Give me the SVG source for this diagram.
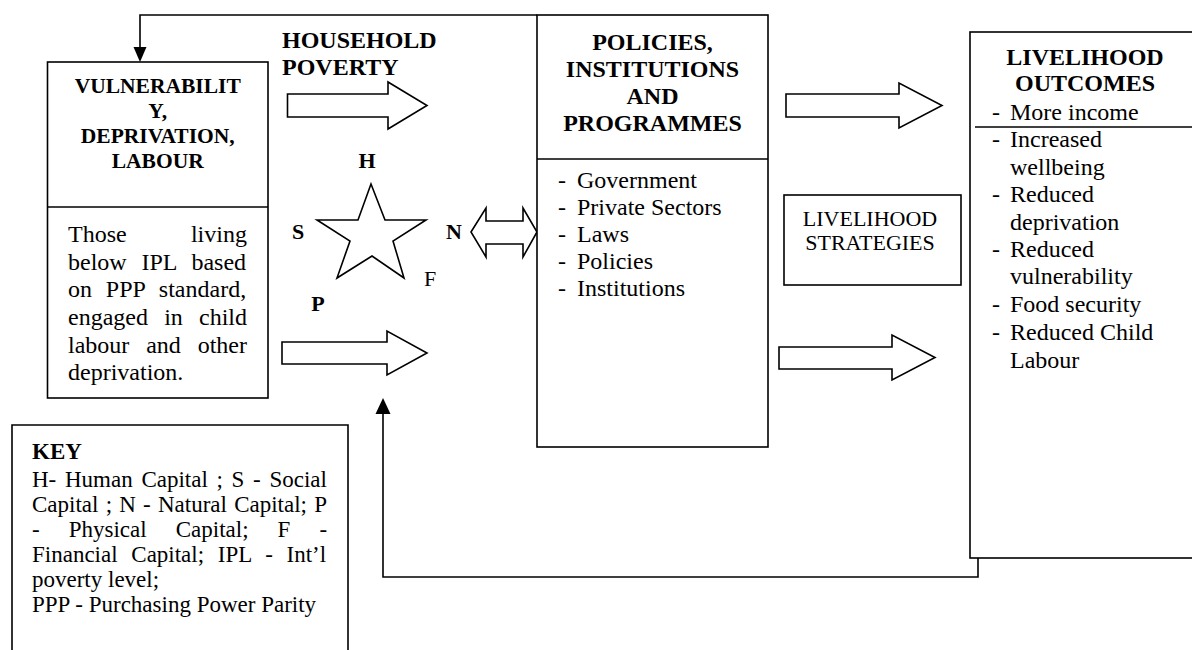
<svg xmlns="http://www.w3.org/2000/svg" width="1192" height="650" viewBox="0 0 1192 650">
<style>
  text { font-family: "Liberation Serif", "Times New Roman", serif; fill: #000; }
  .b { font-weight: bold; }
  .t24 { font-size: 24px; }
  .t23 { font-size: 23px; }
  .t22 { font-size: 22px; }
  .t21 { font-size: 21.5px; }
  .c { text-anchor: middle; }
  .box { fill: #fff; stroke: #000; stroke-width: 1.6; }
  .ln { fill: none; stroke: #000; stroke-width: 1.6; }
  .blk { fill: #fff; stroke: #000; stroke-width: 1.6; stroke-linejoin: miter; }
</style>
<rect width="1192" height="650" fill="#fff"/>

<g id="connectors">
  <path class="ln" d="M537,15 H140 V49"/>
  <polygon points="133.5,47 146.5,47 140,62" fill="#000"/>
  <path class="ln" d="M978,558 V577 H383 V412"/>
  <polygon points="375.5,414 390.5,414 383,398" fill="#000"/>
  <polygon id="arrow-hp" class="blk" points="287.5,94 388,94 388,82 427,105.5 388,129 388,117 287.5,117"/>
  <polygon id="arrow-low" class="blk" points="282,342 387,342 387,331 427,353 387,375 387,364 282,364"/>
  <polygon id="arrow-dbl" class="blk" points="471,232 486,208 486,221 523,221 523,208 537,232 523,257 523,244 486,244 486,257"/>
  <polygon id="arrow-out1" class="blk" points="786,94 899,94 899,83 942,105.5 899,128 899,117 786,117"/>
  <polygon id="arrow-out2" class="blk" points="779,347 892,347 892,335 935,357.5 892,380 892,369 779,369"/>
</g>

<g id="household-poverty">
  <text class="b t24" x="282" y="48">HOUSEHOLD</text>
  <text class="b t24" x="282" y="75">POVERTY</text>
</g>

<g id="vulnerability">
  <rect class="box" x="47.5" y="62" width="220.5" height="336"/>
  <line class="ln" x1="47.5" y1="207" x2="268" y2="207"/>
  <text class="b t21 c" x="157.75" y="93">VULNERABILIT</text>
  <text class="b t21 c" x="157.75" y="118">Y,</text>
  <text class="b t21 c" x="157.75" y="143">DEPRIVATION,</text>
  <text class="b t21 c" x="157.75" y="168">LABOUR</text>
  <text class="t24" x="68" y="242" word-spacing="58.3">Those living</text>
  <text class="t24" x="68" y="270" word-spacing="8.85">below IPL based</text>
  <text class="t24" x="68" y="297" word-spacing="7.85">on PPP standard,</text>
  <text class="t24" x="68" y="325" word-spacing="10.2">engaged in child</text>
  <text class="t24" x="68" y="353" word-spacing="10.85">labour and other</text>
  <text class="t24" x="68" y="380">deprivation.</text>
</g>

<g id="capitals">
  <polygon class="blk" points="371,184 385,220 426,220 393,241 404,278 372,256 337,278 350,241 317,220 358,220"/>
  <text class="b t22 c" x="367" y="168">H</text>
  <text class="b t22 c" x="298" y="239">S</text>
  <text class="b t22 c" x="454" y="239">N</text>
  <text class="t22 c" x="430" y="286">F</text>
  <text class="b t22 c" x="318" y="311">P</text>
</g>

<g id="policies">
  <rect class="box" x="537" y="15" width="231" height="432"/>
  <line class="ln" x1="537" y1="159" x2="768" y2="159"/>
  <text class="b t24 c" x="652.5" y="50">POLICIES,</text>
  <text class="b t24 c" x="652.5" y="77">INSTITUTIONS</text>
  <text class="b t24 c" x="652.5" y="104">AND</text>
  <text class="b t24 c" x="652.5" y="131">PROGRAMMES</text>
  <text class="t24" x="558" y="188">-</text><text class="t24" x="577" y="188">Government</text>
  <text class="t24" x="558" y="215">-</text><text class="t24" x="577" y="215">Private Sectors</text>
  <text class="t24" x="558" y="242">-</text><text class="t24" x="577" y="242">Laws</text>
  <text class="t24" x="558" y="269">-</text><text class="t24" x="577" y="269">Policies</text>
  <text class="t24" x="558" y="296">-</text><text class="t24" x="577" y="296">Institutions</text>
</g>

<g id="strategies">
  <rect class="box" x="784" y="195" width="177" height="90"/>
  <text class="t22 c" x="870" y="226">LIVELIHOOD</text>
  <text class="t22 c" x="870" y="250">STRATEGIES</text>
</g>

<g id="outcomes">
  <rect class="box" x="970" y="32" width="240" height="526"/>
  <line class="ln" x1="975" y1="127" x2="1192" y2="127"/>
  <text class="b t24 c" x="1085" y="65">LIVELIHOOD</text>
  <text class="b t24 c" x="1085" y="91">OUTCOMES</text>
  <text class="t24" x="992" y="120">-</text><text class="t24" x="1010" y="120">More income</text>
  <text class="t24" x="992" y="147">-</text><text class="t24" x="1010" y="147">Increased</text>
  <text class="t24" x="1010" y="175">wellbeing</text>
  <text class="t24" x="992" y="202">-</text><text class="t24" x="1010" y="202">Reduced</text>
  <text class="t24" x="1010" y="230">deprivation</text>
  <text class="t24" x="992" y="257">-</text><text class="t24" x="1010" y="257">Reduced</text>
  <text class="t24" x="1010" y="284">vulnerability</text>
  <text class="t24" x="992" y="312">-</text><text class="t24" x="1010" y="312">Food security</text>
  <text class="t24" x="992" y="340">-</text><text class="t24" x="1010" y="340">Reduced Child</text>
  <text class="t24" x="1010" y="368">Labour</text>
</g>

<g id="key">
  <path class="ln" d="M12,650 V425 H348 V650"/>
  <text class="b t23" x="32" y="459">KEY</text>
  <text class="t23" x="32" y="487" word-spacing="2.95">H- Human Capital ; S - Social</text>
  <text class="t23" x="32" y="512" word-spacing="1.47">Capital ; N - Natural Capital; P</text>
  <text class="t23" x="32" y="537" word-spacing="23.3">- Physical Capital; F -</text>
  <text class="t23" x="32" y="562" word-spacing="7.95">Financial Capital; IPL - Int’l</text>
  <text class="t23" x="32" y="587">poverty level;</text>
  <text class="t23" x="32" y="612">PPP - Purchasing Power Parity</text>
</g>
</svg>
